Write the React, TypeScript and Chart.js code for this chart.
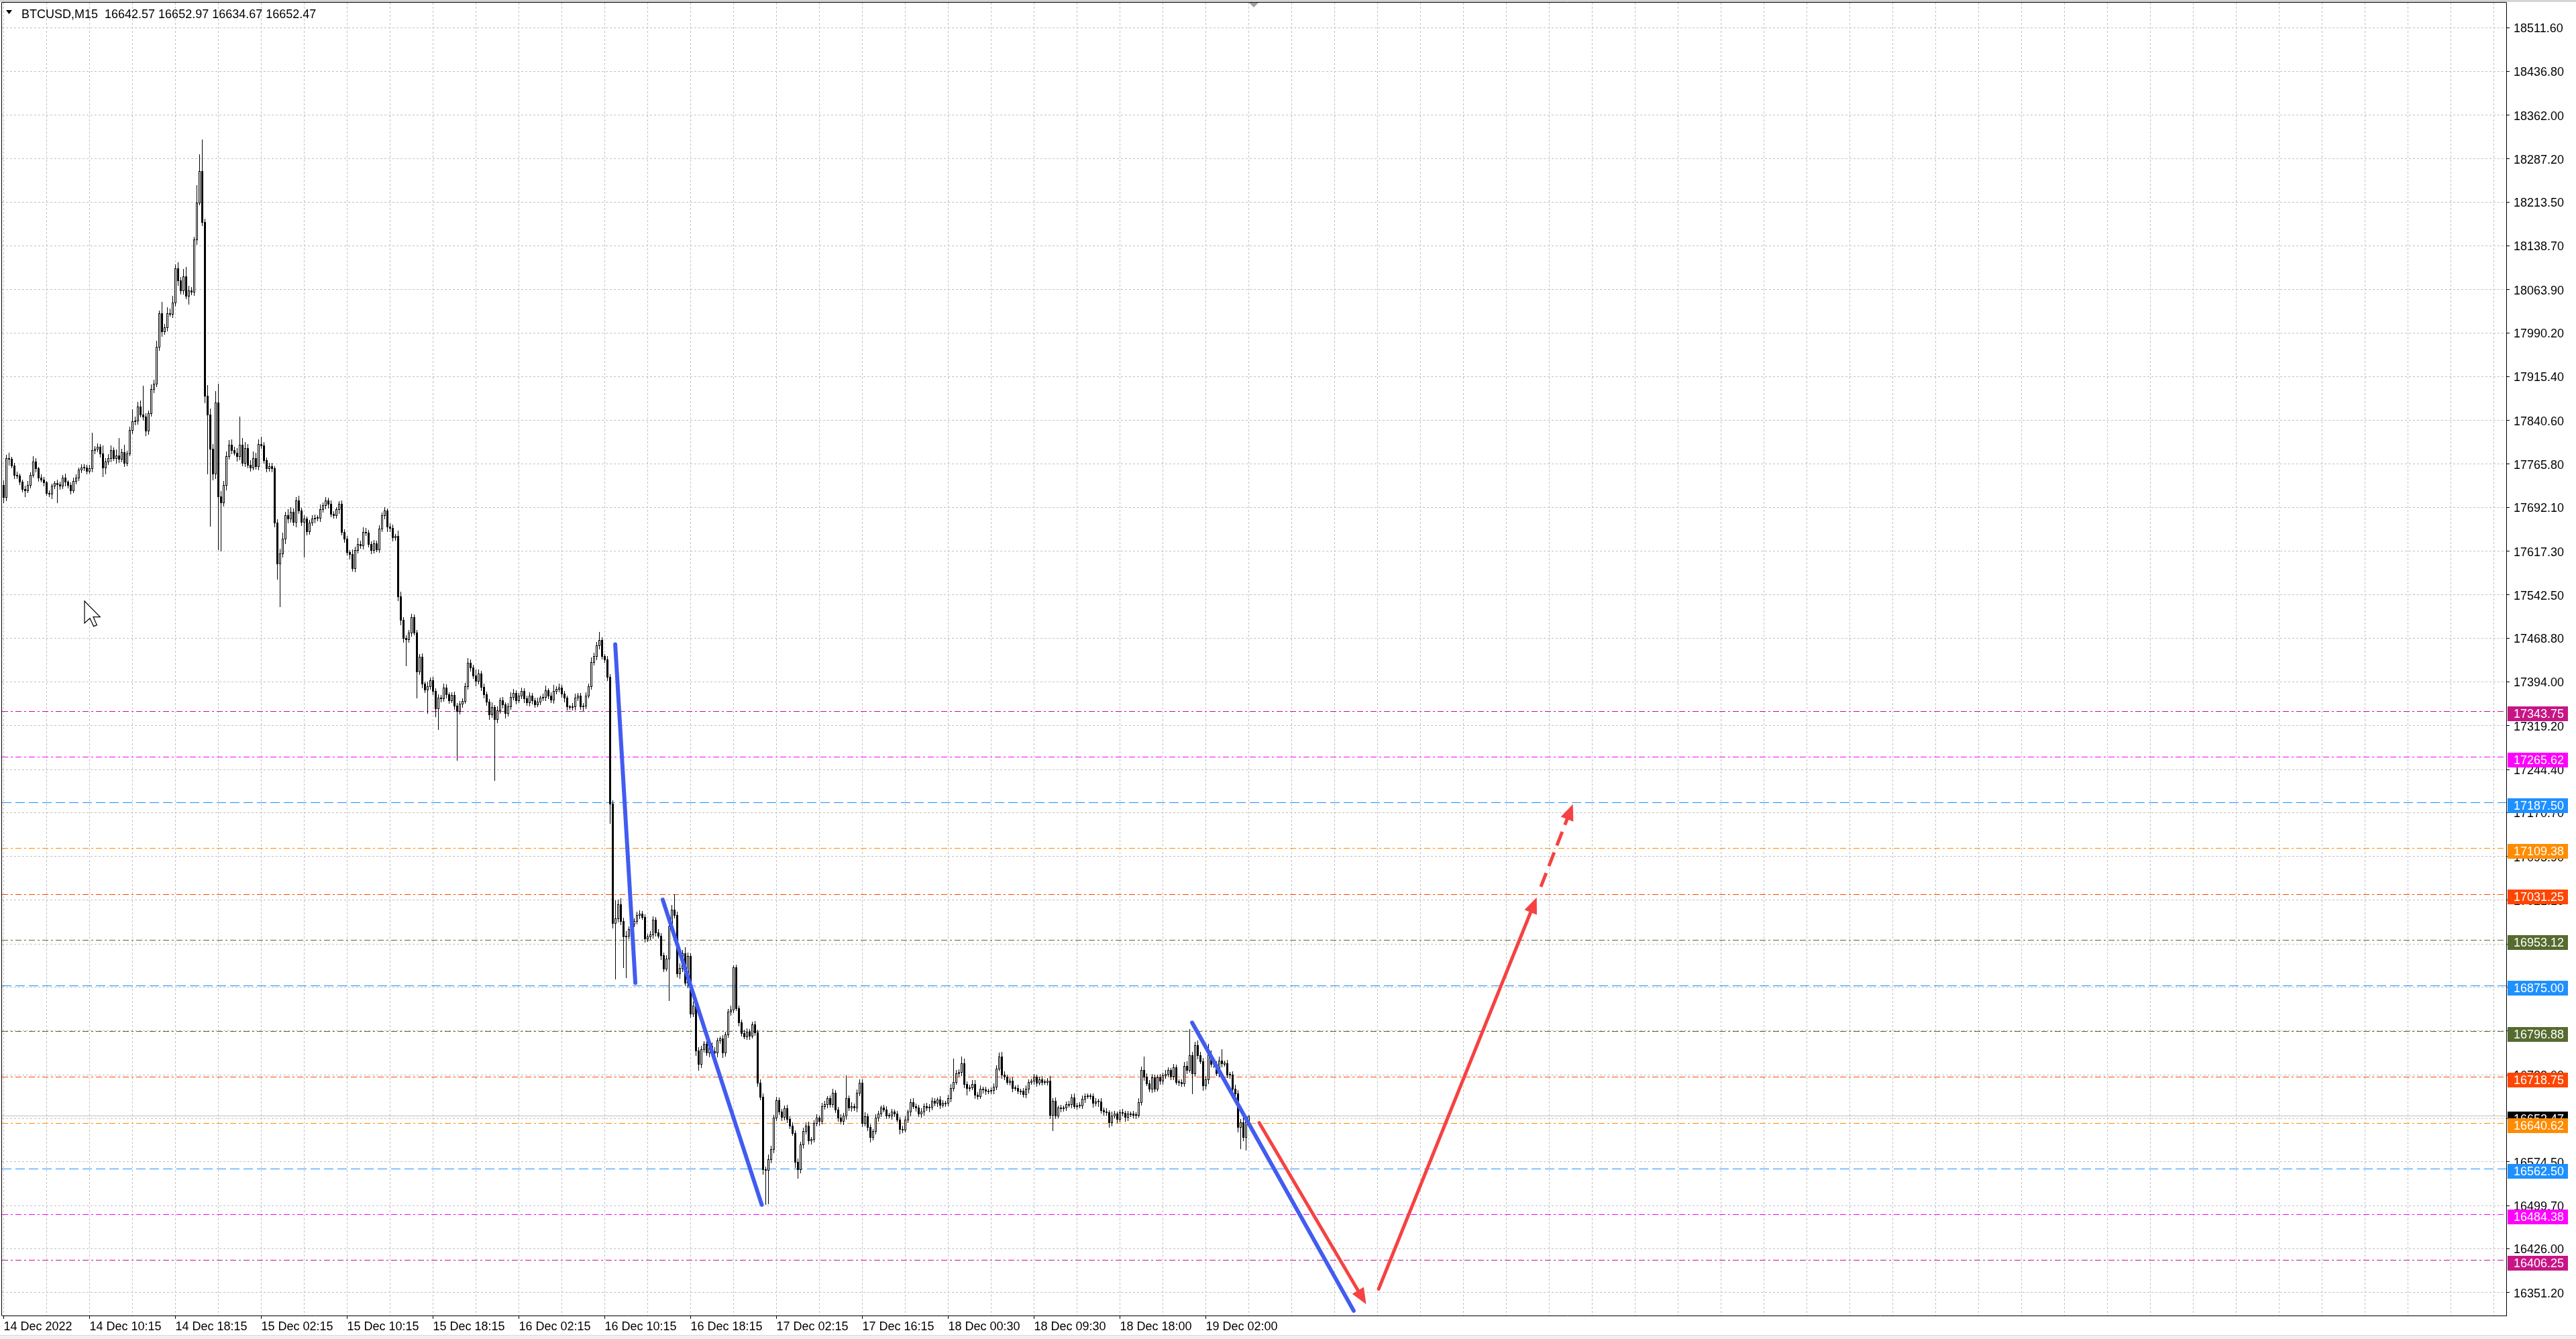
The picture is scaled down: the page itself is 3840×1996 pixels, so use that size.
import { useEffect, useRef } from 'react';
import { Chart, registerables } from 'chart.js';

Chart.register(...registerables);

const W = 3840;
const H = 1996;
const FONT = "'Liberation Sans', Arial, sans-serif";

// ---------- data ----------
const TITLE = 'BTCUSD,M15  16642.57 16652.97 16634.67 16652.47';
const FIRST_OPEN = 17730;

const CLOSES = [
  17709,17775,17774,17763,17747,17746,17735,17723,17721,17730,
  17747,17770,17758,17742,17739,17734,17716,17715,17728,17733,
  17731,17728,17742,17735,17730,17721,17737,17742,17756,17759,
  17760,17754,17758,17789,17791,17795,17783,17759,17770,17776,
  17789,17776,17780,17774,17786,17768,17784,17824,17838,17840,
  17864,17850,17846,17822,17852,17894,17903,17966,18023,17992,
  17999,18023,18022,18041,18100,18079,18062,18086,18053,18062,
  18060,18149,18212,18266,18179,17882,17850,17791,17749,17870,
  17710,17700,17730,17779,17798,17789,17785,17779,17798,17768,
  17793,17764,17760,17775,17762,17800,17797,17772,17758,17762,
  17758,17665,17596,17613,17638,17678,17672,17684,17667,17703,
  17686,17667,17672,17651,17665,17672,17674,17674,17688,17695,
  17703,17697,17680,17678,17688,17697,17650,17638,17615,17612,
  17588,17618,17629,17627,17650,17648,17629,17619,17630,17620,
  17655,17678,17686,17659,17656,17640,17642,17539,17499,17468,
  17466,17478,17504,17478,17411,17436,17390,17380,17386,17396,
  17378,17348,17367,17365,17384,17372,17362,17371,17353,17344,
  17356,17361,17386,17426,17418,17404,17395,17408,17385,17372,
  17360,17338,17350,17330,17345,17362,17355,17340,17352,17368,
  17375,17362,17370,17378,17365,17358,17370,17362,17355,17360,
  17366,17368,17379,17370,17363,17378,17381,17384,17373,17366,
  17351,17351,17352,17367,17370,17351,17353,17370,17386,17427,
  17437,17456,17465,17437,17432,17402,17185,16981,16990,17014,
  16985,16958,16960,16971,16980,16985,16995,16997,16992,16955,
  16958,16962,16987,16965,16960,16926,16904,16921,16976,17004,
  16995,16896,16905,16930,16880,16925,16827,16840,16764,16741,
  16766,16775,16760,16772,16763,16760,16781,16784,16760,16791,
  16830,16834,16906,16836,16812,16794,16788,16796,16789,16808,
  16795,16709,16685,16561,16560,16578,16595,16649,16679,16660,
  16650,16665,16647,16636,16623,16574,16561,16603,16626,16636,
  16610,16612,16640,16649,16643,16669,16672,16682,16672,16692,
  16663,16649,16643,16653,16682,16666,16669,16666,16692,16709,
  16640,16652,16633,16616,16626,16649,16656,16666,16663,16653,
  16653,16659,16656,16646,16630,16629,16646,16659,16676,16669,
  16666,16656,16659,16669,16666,16668,16678,16674,16680,16671,
  16674,16674,16683,16700,16710,16725,16727,16742,16706,16700,
  16701,16707,16688,16686,16698,16697,16695,16695,16696,16702,
  16733,16753,16723,16719,16710,16712,16700,16700,16695,16695,
  16689,16698,16710,16712,16719,16709,16714,16710,16710,16712,
  16654,16678,16653,16666,16666,16666,16672,16672,16684,16669,
  16670,16670,16681,16686,16686,16686,16674,16677,16677,16662,
  16660,16658,16641,16653,16656,16647,16658,16657,16650,16656,
  16656,16654,16654,16676,16731,16719,16708,16699,16718,16699,
  16718,16712,16721,16724,16730,16720,16735,16710,16710,16708,
  16738,16731,16756,16725,16773,16756,16746,16704,16714,16758,
  16741,16741,16725,16747,16742,16742,16723,16723,16699,16691,
  16633,16641,16616,16642.57,16652.47,
];

const UP_WICK = [
  8,6,10,4,5,6,3,4,5,6,
  4,9,5,3,6,4,3,5,4,3,
  6,4,5,7,3,4,5,6,4,6,
  5,4,6,30,5,6,4,14,5,6,
  8,5,10,30,6,12,4,5,21,6,
  8,10,49,6,5,8,6,10,5,20,
  6,10,8,12,7,10,6,12,16,8,
  6,5,30,28,54,6,18,10,8,20,
  33,9,6,8,8,10,6,8,48,12,
  10,6,8,12,10,8,12,6,5,6,
  5,4,6,8,10,6,10,8,6,6,
  8,5,6,4,5,6,5,4,8,5,
  6,5,6,5,4,5,6,4,5,4,
  8,6,10,5,8,6,5,4,6,5,
  6,5,6,4,5,6,4,10,8,5,
  5,4,6,5,4,5,6,4,8,5,
  6,5,5,4,6,5,4,5,6,4,
  5,4,6,8,6,5,10,6,4,6,
  5,4,8,4,6,5,6,4,5,8,
  6,4,5,6,4,5,6,4,5,6,
  4,5,8,4,6,10,5,6,4,5,
  4,3,5,6,4,5,4,6,5,8,
  6,6,14,5,4,6,4,6,30,8,
  10,6,8,5,6,5,6,6,5,4,
  5,6,6,5,6,4,5,6,8,8,
  27,6,8,6,10,6,5,8,5,6,
  6,5,8,6,5,6,5,4,6,5,
  5,6,3,4,5,4,5,6,4,5,
  6,4,5,6,5,8,6,5,6,5,
  4,5,6,4,5,4,5,5,6,5,
  6,4,5,6,4,5,6,4,5,6,
  4,5,6,4,39,5,6,4,5,6,
  5,6,4,5,4,6,5,4,5,6,
  4,5,4,5,4,5,6,4,5,6,
  4,5,6,4,5,4,6,5,4,6,
  5,4,5,6,40,6,5,12,8,5,
  4,6,6,5,6,4,5,4,5,6,
  6,7,8,5,4,5,6,4,5,4,
  5,6,5,4,5,4,5,6,4,5,
  8,5,6,4,5,4,5,6,5,6,
  4,5,6,4,5,4,5,6,4,5,
  4,5,4,6,5,4,5,6,4,5,
  4,5,4,6,5,22,6,5,6,5,
  4,6,5,6,5,4,6,5,4,5,
  6,8,44,6,6,8,6,5,6,17,
  6,4,5,6,19,5,6,4,5,6,
  5,6,8,5,0.5,
];

const DN_WICK = [
  9,6,10,4,6,5,4,5,11,4,
  5,4,6,5,4,6,4,5,8,4,
  31,5,4,6,5,6,4,5,4,5,
  4,5,4,5,6,4,5,14,10,5,
  6,4,8,5,4,6,5,4,6,5,
  6,4,5,7,5,4,6,5,6,8,
  5,6,4,6,5,8,6,6,5,14,
  5,6,8,4,6,12,101,131,10,8,
  90,83,6,8,5,6,4,8,6,5,
  6,5,6,4,5,6,4,5,6,4,
  5,6,27,74,6,8,6,5,6,8,
  5,6,60,6,5,4,6,5,6,4,
  5,6,4,5,4,6,5,6,5,8,
  5,6,4,5,6,4,5,6,5,4,
  5,4,6,8,5,6,4,6,8,6,
  44,5,6,4,44,5,6,4,40,5,
  6,14,35,5,4,6,5,4,6,84,
  5,6,4,5,6,4,8,5,6,5,
  6,8,5,104,6,5,6,8,4,5,
  5,6,4,5,6,4,5,6,5,4,
  5,4,6,5,4,6,5,4,5,6,
  5,4,5,6,5,4,6,5,4,5,
  4,5,6,4,5,6,33,8,95,6,
  6,52,69,5,6,4,5,6,4,6,
  5,4,6,5,4,6,5,4,71,5,
  4,6,8,6,5,8,6,5,8,10,
  6,5,4,6,5,4,6,5,8,5,
  4,6,5,4,6,5,4,5,6,4,
  5,6,5,8,59,58,6,5,4,5,
  5,4,6,5,4,10,15,6,5,4,
  5,6,4,5,6,4,5,6,4,5,
  5,6,4,5,6,4,5,4,6,5,
  6,5,6,8,5,4,6,5,4,5,
  4,6,5,4,8,5,4,5,6,4,
  5,4,6,5,4,6,5,4,5,6,
  4,5,4,6,5,4,5,6,5,12,
  5,4,6,5,4,5,6,4,5,6,
  5,4,6,5,4,5,6,4,5,6,
  4,5,6,4,5,6,4,5,4,5,
  6,27,5,4,6,5,4,5,6,4,
  5,4,5,6,4,5,6,4,8,5,
  6,4,8,5,4,6,5,4,6,5,
  4,5,6,4,5,6,4,5,6,5,
  4,5,6,4,5,6,5,4,6,5,
  5,6,4,35,5,6,4,8,5,6,
  5,6,4,5,6,4,5,6,8,6,
  8,36,6,22,7.9,
];

const X_LABEL_INDEX = [0, 32, 64, 96, 128, 160, 192, 224, 256, 288, 320, 352, 384, 416, 448];
const X_LABEL_TEXT = [
  '14 Dec 2022', '14 Dec 10:15', '14 Dec 18:15', '15 Dec 02:15', '15 Dec 10:15',
  '15 Dec 18:15', '16 Dec 02:15', '16 Dec 10:15', '16 Dec 18:15', '17 Dec 02:15',
  '17 Dec 16:15', '18 Dec 00:30', '18 Dec 09:30', '18 Dec 18:00', '19 Dec 02:00',
];
const X_GRID_STEP = 16;

const Y_TICKS = [
  18511.6, 18436.8, 18362.0, 18287.2, 18213.5, 18138.7, 18063.9, 17990.2, 17915.4, 17840.6,
  17765.8, 17692.1, 17617.3, 17542.5, 17468.8, 17394.0, 17319.2, 17244.4, 17170.7, 17095.9,
  17021.1, 16946.3, 16872.6, 16797.8, 16723.0, 16648.2, 16574.5, 16499.7, 16426.0, 16351.2,
];

const LEVEL_PRICES = [17343.75, 17265.62, 17187.5, 17109.38, 17031.25, 16953.12, 16875.0, 16796.88, 16718.75, 16640.62, 16562.5, 16484.38, 16406.25];
const LEVEL_COLORS = ['#c71585', '#ff00ff', '#1e90ff', '#ff8c00', '#ff4500', '#556b2f', '#1e90ff', '#556b2f', '#ff4500', '#ff8c00', '#1e90ff', '#ff00ff', '#c71585'];
const LEVEL_DASHED = [false, false, true, false, false, false, true, false, false, false, true, false, false];
const CURRENT_PRICE = 16652.47;

// trend lines: [barIndex1, price1, barIndex2, price2]
const BLUE_LINES = [
  [227.9, 17458, 235.4, 16880],
  [245.6, 17022, 282.5, 16501],
  [442.9, 16812, 503.1, 16320],
];
const RED_ARROWS = [
  [467.9, 16641, 507.75, 16331],
  [512.4, 16357, 571.3, 17026],
];
const RED_DASHED_ARROWS = [
  [572.85, 17044, 584.8, 17185],
];

const X_MIN = -0.625;
const X_MAX = 932.625;
const Y_MIN = 16311.8;
const Y_MAX = 18554.0;

// ---------- helpers ----------
function drawArrow(ctx: CanvasRenderingContext2D, x1: number, y1: number, x2: number, y2: number, dashed: boolean) {
  const dx = x2 - x1, dy = y2 - y1;
  const len = Math.hypot(dx, dy);
  const ux = dx / len, uy = dy / len;
  const L = 24, Wd = 10;
  const bx = x2 - ux * L, by = y2 - uy * L;
  ctx.setLineDash(dashed ? [22, 11] : []);
  ctx.beginPath();
  ctx.moveTo(x1, y1);
  ctx.lineTo(bx + ux * 2, by + uy * 2);
  ctx.stroke();
  ctx.setLineDash([]);
  ctx.beginPath();
  ctx.moveTo(x2, y2);
  ctx.lineTo(bx - uy * Wd, by + ux * Wd);
  ctx.lineTo(bx + uy * Wd, by - ux * Wd);
  ctx.closePath();
  ctx.fill();
}

const mtPlugin = {
  id: 'mt4look',
  afterDatasetsUpdate(chart: any) {
    // snap candle edges to whole pixels so bodies and wicks render crisp
    chart.data.datasets.forEach((_: any, di: number) => {
      const meta = chart.getDatasetMeta(di);
      for (const el of meta.data) {
        const top = Math.min(el.y, el.base);
        const bot = Math.max(el.y, el.base);
        let t = Math.floor(top);
        let b = Math.ceil(bot);
        if (b - t < 1) b = t + 1;
        if (el.y <= el.base) { el.y = t; el.base = b; } else { el.y = b; el.base = t; }
      }
    });
  },
  beforeDraw(chart: any) {
    const ctx: CanvasRenderingContext2D = chart.ctx;
    ctx.save();
    ctx.fillStyle = '#ffffff';
    ctx.fillRect(0, 0, W, H);
    ctx.fillStyle = '#d4d4d4';
    ctx.fillRect(0, 0, W, 3);
    ctx.fillStyle = '#f0f0f0';
    ctx.fillRect(0, 1990, W, 6);
    ctx.fillStyle = '#d8d8d8';
    ctx.fillRect(0, 1990, W, 1);
    ctx.restore();
  },
  beforeDatasetsDraw(chart: any) {
    const ctx: CanvasRenderingContext2D = chart.ctx;
    const a = chart.chartArea;
    const xs = chart.scales.x;
    const ys = chart.scales.y;
    const snap = (v: number) => Math.round(v - 0.5) + 0.5;
    ctx.save();
    ctx.beginPath();
    ctx.rect(a.left, a.top, a.right - a.left, a.bottom - a.top);
    ctx.clip();
    ctx.lineWidth = 1;
    ctx.strokeStyle = '#c0c0c0';
    ctx.setLineDash([3, 3]);
    for (const t of xs.ticks) {
      const px = snap(xs.getPixelForValue(t.value));
      ctx.beginPath(); ctx.moveTo(px, a.top); ctx.lineTo(px, a.bottom); ctx.stroke();
    }
    for (const t of ys.ticks) {
      const py = snap(ys.getPixelForValue(t.value));
      ctx.beginPath(); ctx.moveTo(a.left, py); ctx.lineTo(a.right, py); ctx.stroke();
    }
    // current price line
    ctx.setLineDash([]);
    ctx.strokeStyle = '#c0c0c0';
    const cp = snap(ys.getPixelForValue(CURRENT_PRICE));
    ctx.beginPath(); ctx.moveTo(a.left, cp); ctx.lineTo(a.right, cp); ctx.stroke();
    // level lines
    LEVEL_PRICES.forEach((p, i) => {
      ctx.strokeStyle = LEVEL_COLORS[i];
      ctx.setLineDash(LEVEL_DASHED[i] ? [14, 6] : [9, 4, 3, 4]);
      const py = snap(ys.getPixelForValue(p));
      ctx.beginPath(); ctx.moveTo(a.left, py); ctx.lineTo(a.right, py); ctx.stroke();
    });
    ctx.restore();
  },
  afterDatasetsDraw(chart: any) {
    const ctx: CanvasRenderingContext2D = chart.ctx;
    const a = chart.chartArea;
    const xs = chart.scales.x;
    const ys = chart.scales.y;
    const X = (v: number) => xs.getPixelForValue(v);
    const Y = (v: number) => ys.getPixelForValue(v);

    ctx.save();
    ctx.beginPath();
    ctx.rect(a.left, a.top, a.right - a.left, a.bottom - a.top);
    ctx.clip();
    ctx.lineCap = 'round';
    ctx.lineJoin = 'round';
    ctx.strokeStyle = 'rgb(66,92,240)';
    ctx.lineWidth = 6;
    for (const l of BLUE_LINES) {
      ctx.beginPath(); ctx.moveTo(X(l[0]), Y(l[1])); ctx.lineTo(X(l[2]), Y(l[3])); ctx.stroke();
    }
    ctx.strokeStyle = 'rgb(246,66,66)';
    ctx.fillStyle = 'rgb(246,66,66)';
    ctx.lineWidth = 5;
    for (const l of RED_ARROWS) drawArrow(ctx, X(l[0]), Y(l[1]), X(l[2]), Y(l[3]), false);
    ctx.lineCap = 'butt';
    for (const l of RED_DASHED_ARROWS) drawArrow(ctx, X(l[0]), Y(l[1]), X(l[2]), Y(l[3]), true);
    ctx.restore();

    ctx.save();
    // frame (left & top)
    ctx.strokeStyle = '#000';
    ctx.lineWidth = 1;
    ctx.beginPath();
    ctx.moveTo(a.left - 0.5, a.bottom + 0.5);
    ctx.lineTo(a.left - 0.5, a.top - 0.5);
    ctx.lineTo(a.right + 0.5, a.top - 0.5);
    ctx.stroke();

    // chart shift marker
    ctx.fillStyle = '#a0a0a0';
    ctx.beginPath();
    ctx.moveTo(1862, a.top); ctx.lineTo(1876, a.top); ctx.lineTo(1869, a.top + 7); ctx.closePath(); ctx.fill();

    // title
    ctx.fillStyle = '#000';
    ctx.beginPath();
    ctx.moveTo(9, 15); ctx.lineTo(18, 15); ctx.lineTo(13.5, 21); ctx.closePath(); ctx.fill();
    ctx.font = `18px ${FONT}`;
    ctx.textBaseline = 'alphabetic';
    ctx.textAlign = 'left';
    ctx.fillText(TITLE, 32, 27);

    // price boxes on the right axis
    const boxX = a.right + 2;
    const boxW = 90;
    const boxH = 22;
    const drawBox = (price: number, color: string) => {
      const py = Y(price) + 4;
      const top = Math.round(py - boxH / 2);
      ctx.fillStyle = color;
      ctx.fillRect(boxX, top, boxW, boxH);
      ctx.fillStyle = '#ffffff';
      ctx.textBaseline = 'middle';
      ctx.fillText(price.toFixed(2), a.right + 11, top + boxH / 2 + 1);
    };
    drawBox(CURRENT_PRICE, '#000000');
    LEVEL_PRICES.forEach((p, i) => drawBox(p, LEVEL_COLORS[i]));

    // mouse cursor
    const cx = 126, cy = 896, s = 2;
    const pts = [[0, 0], [0, 16.5], [4, 12.8], [6.8, 18.8], [9.2, 17.8], [6.5, 11.8], [11.6, 11.8]];
    ctx.beginPath();
    pts.forEach((p, i) => (i === 0 ? ctx.moveTo(cx + p[0] * s, cy + p[1] * s) : ctx.lineTo(cx + p[0] * s, cy + p[1] * s)));
    ctx.closePath();
    ctx.fillStyle = '#ffffff';
    ctx.fill();
    ctx.strokeStyle = '#000';
    ctx.lineWidth = 1.2;
    ctx.stroke();
    ctx.restore();
  },
};

export default function App() {
  const ref = useRef<HTMLCanvasElement | null>(null);

  useEffect(() => {
    document.body.style.margin = '0';
    document.body.style.overflow = 'hidden';
    const canvas = ref.current;
    if (!canvas) return;

    const n = Math.min(CLOSES.length, UP_WICK.length, DN_WICK.length);
    const wickData: any[] = [];
    const bodyData: any[] = [];
    const bodyColors: string[] = [];
    for (let i = 0; i < n; i++) {
      const o = i === 0 ? FIRST_OPEN : CLOSES[i - 1];
      const c = CLOSES[i];
      const hi = Math.max(o, c) + UP_WICK[i];
      const lo = Math.min(o, c) - DN_WICK[i];
      wickData.push({ x: i, y: [lo, hi] });
      if (Math.abs(o - c) < 1.2) {
        const m = (o + c) / 2;
        bodyData.push({ x: i, y: [m - 0.6, m + 0.6] });
      } else {
        bodyData.push({ x: i, y: [Math.min(o, c), Math.max(o, c)] });
      }
      bodyColors.push(c >= o ? '#ffffff' : '#000000');
    }

    const xGrid: number[] = [];
    for (let v = 0; v <= X_MAX; v += X_GRID_STEP) xGrid.push(v);

    const chart = new Chart(canvas, {
      type: 'bar',
      data: {
        datasets: [
          {
            label: 'body',
            data: bodyData,
            backgroundColor: bodyColors,
            borderColor: '#000000',
            borderWidth: 1,
            borderSkipped: false,
            barThickness: 3,
            grouped: false,
            inflateAmount: 0,
            order: 1,
          } as any,
          {
            label: 'wick',
            data: wickData,
            backgroundColor: '#000000',
            borderWidth: 0,
            barThickness: 1,
            grouped: false,
            inflateAmount: 0,
            order: 2,
          } as any,
        ],
      },
      options: {
        responsive: false,
        animation: false,
        devicePixelRatio: 1,
        events: [],
        layout: { padding: { left: 3, top: 4, right: 0, bottom: 0 } },
        plugins: {
          legend: { display: false },
          tooltip: { enabled: false },
        },
        scales: {
          x: {
            type: 'linear',
            position: 'bottom',
            min: X_MIN,
            max: X_MAX,
            bounds: 'data',
            offset: false,
            grid: {
              offset: false,
              drawOnChartArea: false,
              drawTicks: true,
              tickLength: 5,
              tickColor: (c: any) => (X_LABEL_INDEX.indexOf(c.tick ? c.tick.value : -1) >= 0 ? '#000000' : 'rgba(0,0,0,0)'),
            },
            border: { display: true, color: '#000000', width: 1 },
            ticks: {
              autoSkip: false,
              maxRotation: 0,
              minRotation: 0,
              align: 'start',
              padding: 1,
              color: '#000000',
              font: { family: FONT, size: 18 },
              callback: (v: any) => {
                const k = X_LABEL_INDEX.indexOf(Number(v));
                return k >= 0 ? X_LABEL_TEXT[k] : '';
              },
            },
            afterBuildTicks: (s: any) => {
              s.ticks = xGrid.map((v) => ({ value: v }));
            },
            afterFit: (s: any) => {
              s.height = 35;
              s.paddingLeft = 0;
              s.paddingRight = 0;
            },
          } as any,
          y: {
            type: 'linear',
            position: 'right',
            min: Y_MIN,
            max: Y_MAX,
            bounds: 'data',
            grid: { drawOnChartArea: false, drawTicks: true, tickLength: 5, tickColor: '#000000' },
            border: { display: true, color: '#000000', width: 1 },
            ticks: {
              autoSkip: false,
              padding: 6,
              labelOffset: 2,
              color: '#000000',
              font: { family: FONT, size: 18 },
              callback: (v: any) => Number(v).toFixed(2),
            },
            afterBuildTicks: (s: any) => {
              s.ticks = Y_TICKS.map((v) => ({ value: v }));
            },
            afterFit: (s: any) => {
              s.width = 104;
              s.paddingTop = 0;
              s.paddingBottom = 0;
            },
          } as any,
        },
      } as any,
      plugins: [mtPlugin as any],
    });

    return () => chart.destroy();
  }, []);

  return <canvas ref={ref} width={W} height={H} style={{ display: 'block', width: W, height: H }} />;
}
